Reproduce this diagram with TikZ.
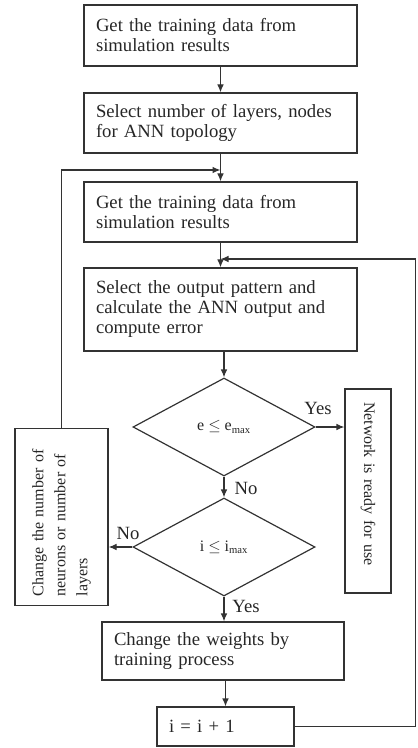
\documentclass[tikz,border=0pt]{standalone}
\usepackage{fontspec}
\setmainfont{Liberation Serif}
\usepackage{tikz}
\usetikzlibrary{arrows.meta,shapes.geometric}
\newcommand{\bigtxt}{\fontsize{14}{15}\selectfont}
\newcommand{\smalltxt}{\fontsize{12}{16.5}\selectfont}
\tikzset{>={Latex[length=6pt,width=5pt]},
  procbox/.style={draw=black!80,line width=0.9pt,rectangle,align=left,
    inner xsep=9pt,text width=#1,font=\bigtxt,text=black!85},
  decision/.style={draw=black!80,line width=0.9pt,diamond,inner sep=0pt,
    minimum width=136.5pt,minimum height=73.5pt,font=\smalltxt,text=black!85},
  sidebox/.style={draw=black!80,line width=0.9pt,rectangle,align=left,
    inner xsep=7pt,font=\smalltxt,text=black!85},
  lbl/.style={font=\bigtxt,text=black!85,inner sep=0pt},
  conn/.style={draw=black!80,line width=0.9pt}}

\begin{document}
\begin{tikzpicture}[x=0.75pt,y=-0.75pt]
          \useasboundingbox (0,0) rectangle (417,748);

          \node[procbox=186.75pt,minimum height=45.75pt] (getdata) at (220.5,35.5)
            {Get the training data from\\simulation results};
          \node[procbox=186.75pt,minimum height=45pt] (topology) at (220.5,123)
            {Select number of layers, nodes\\for ANN topology};
          \node[procbox=186.75pt,minimum height=45pt] (getdatab) at (220.5,212)
            {Get the training data from\\simulation results};
          \node[procbox=186.75pt,minimum height=62.25pt] (output) at (220.5,309.5)
            {Select the output pattern and\\calculate the ANN output and\\compute error};

          \node[decision] (errtest) at (224,427) {e $\leq$ e\textsubscript{max}};
          \node[decision] (itertest) at (224,547) {i $\leq$ i\textsubscript{max}};

          \node[sidebox,rotate=-90,text width=133.5pt,minimum height=34.5pt,inner xsep=9.75pt]
            (ready) at (368,491) {Network is ready for use};
          \node[sidebox,rotate=90,text width=118.75pt,minimum height=69.75pt]
            (change) at (61.5,517) {Change the number of\\neurons or number of\\layers};

          \node[procbox=163.5pt,minimum height=43.5pt] (weights) at (223,651)
            {Change the weights by\\training process};
          \node[procbox=84.75pt,minimum height=29.25pt] (incr) at (225.5,726.5)
            {i = i + 1};

          \node[lbl] (yesa) at (318,408) {Yes};
          \node[lbl] (noa) at (246,488) {No};
          \node[lbl] (nob) at (128,533) {No};
          \node[lbl] (yesb) at (246,606) {Yes};

          \coordinate (jointop) at (220.5,170);
          \coordinate (joinmid) at (220.5,259);
          \coordinate (rightcorner) at (415.5,259);

          \draw[conn,->] (getdata) -- (topology);
          \draw[conn,->] (topology) -- (getdatab);
          \draw[conn,->] (getdatab) -- (output);
          \draw[conn,->] (errtest.north |- output.south) -- (errtest.north);
          \draw[conn,->] (errtest.east) -- (errtest.east -| ready.south);
          \draw[conn,->] (errtest) -- (itertest);
          \draw[conn,->] (itertest.west) -- (itertest.west -| change.south);
          \draw[conn,->] (itertest.south) -- (weights.north -| itertest.south);
          \draw[conn,->] (weights.south -| incr.north) -- (incr.north);
          \draw[conn,->] (change.east) |- (jointop);
          \draw[conn,->] (incr.east) -| (rightcorner) -- (joinmid);
        \end{tikzpicture}
\end{document}
